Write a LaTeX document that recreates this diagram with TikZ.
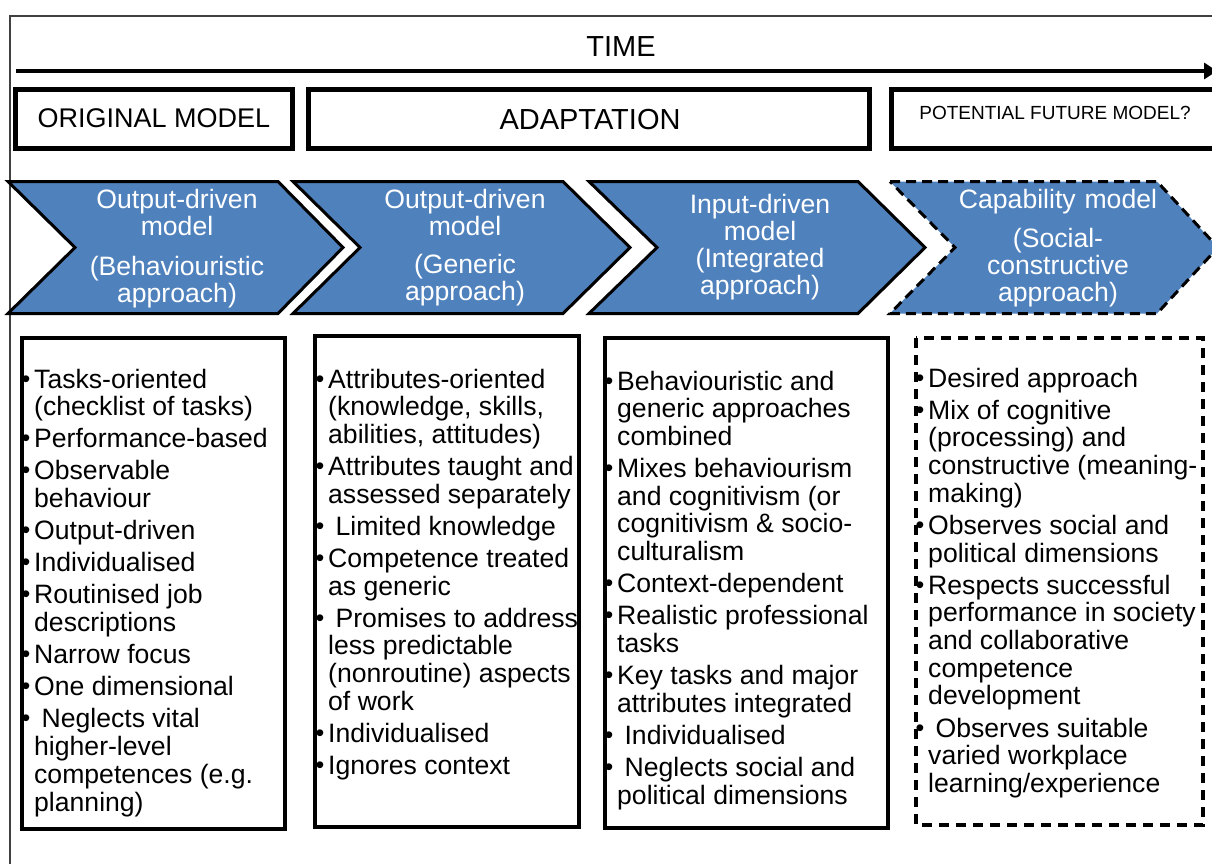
\documentclass[tikz,border=0pt]{standalone}
\usepackage{fontspec}
\setmainfont{Liberation Sans}
\usetikzlibrary{arrows.meta}
\definecolor{chevblue}{HTML}{4F81BD}
\definecolor{framegray}{HTML}{404040}
\newcommand\mybul{{\fontsize{25}{25}\selectfont\textbullet}}
\newcommand\itm[1]{\par\hangindent=12pt\hangafter=1\noindent\makebox[12pt][l]{\kern-0.5pt\raisebox{1pt}{\mybul}}#1}
\newcommand\listblock[1]{\vtop{\hsize=300pt\parindent=0pt\parskip=4.4pt\relax
  \rightskip=0pt plus 1fil\relax #1\par}}
\tikzset{
  hdrbox/.style={draw=black, line width=5pt},
  hdrtext/.style={inner sep=0pt, anchor=base},
  chev/.style={fill=chevblue, draw=black, line width=3pt, line join=miter},
  chevdash/.style={chev, dash pattern=on 10pt off 6pt},
  chevtext/.style={text=white, font=\fontsize{26.6}{27}\selectfont, text width=260pt, align=center, inner sep=0pt, anchor=base},
  listbox/.style={draw=black, line width=4pt},
  listdash/.style={listbox, dash pattern=on 10pt off 7pt},
  listtext/.style={font=\fontsize{26.6}{27.7}\selectfont, inner sep=0pt, anchor=base west},
}
\begin{document}
\begin{tikzpicture}[x=1pt,y=-1pt]
\useasboundingbox (0,0) rectangle (1212,864);
\clip (0,0) rectangle (1212,864);
\fill[white] (0,0) rectangle (1212,864);
% outer frame
\draw[framegray, line width=1.5pt] (10,864) -- (10,16) -- (1212,16);
% time axis
\node[hdrtext, font=\fontsize{29}{29}\selectfont] (time) at (621,57) {TIME};
\coordinate (ts) at (16,71);
\coordinate (te) at (1217,71);
\draw[line width=3.5pt, -{Triangle[length=13pt,width=16pt]}] (ts) -- (te);
% header boxes
\draw[hdrbox] (15.5,89.5) rectangle (292.5,148.5);
\draw[hdrbox] (308.5,89.5) rectangle (869.5,148.5);
\draw[hdrbox] (891.5,89.5) rectangle (1240,148.5);
\node[hdrtext, font=\fontsize{27}{27}\selectfont] (h1) at (154,128) {ORIGINAL MODEL};
\node[hdrtext, font=\fontsize{29}{29}\selectfont] (h2) at (590,130) {ADAPTATION};
\node[hdrtext, font=\fontsize{19}{19}\selectfont] (h3) at (1055,120) {POTENTIAL FUTURE MODEL?};
% chevrons
\draw[chev] (8,181.5) -- (278,181.5) -- (343,247.5) -- (278,313.5) -- (8,313.5) -- (75,247.5) -- cycle;
\draw[chev] (293,181.5) -- (563,181.5) -- (630,247.5) -- (563,313.5) -- (293,313.5) -- (360,247.5) -- cycle;
\draw[chev] (589,181.5) -- (858,181.5) -- (925,247.5) -- (858,313.5) -- (589,313.5) -- (657,247.5) -- cycle;
\draw[chevdash] (890,181.5) -- (1157,181.5) -- (1218,247.5) -- (1157,313.5) -- (890,313.5) -- (955,247.5) -- cycle;
\node[chevtext] (c1t) at (177,208) {Output-driven\\model\\[13pt](Behaviouristic\\approach)};
\node[chevtext] (c2t) at (465,208) {Output-driven\\model\\[11pt](Generic\\approach)};
\node[chevtext] (c3t) at (760,213) {Input-driven\\model\\(Integrated\\approach)};
\node[chevtext] (c4t) at (1058,208) {Capability model\\[12pt](Social-\\constructive\\approach)};
% list boxes
\draw[listbox] (22,338) rectangle (285,829);
\draw[listbox] (315,336) rectangle (579,827);
\draw[listbox] (605,338) rectangle (888,828);
\draw[listdash] (916,338) rectangle (1203,825);
\node[listtext] (l1) at (22,388) {\listblock{%
\itm{Tasks-oriented\newline (checklist of tasks)}
\itm{Performance-based}
\itm{Observable\newline behaviour}
\itm{Output-driven}
\itm{Individualised}
\itm{Routinised job\newline descriptions}
\itm{Narrow focus}
\itm{One dimensional}
\itm{\ Neglects vital\newline higher-level\newline competences (e.g.\newline planning)}}};
\node[listtext] (l2) at (316,388) {\listblock{%
\itm{Attributes-oriented\newline (knowledge, skills,\newline abilities, attitudes)}
\itm{Attributes taught and\newline assessed separately}
\itm{\ Limited knowledge}
\itm{Competence treated\newline as generic}
\itm{\ Promises to address\newline less predictable\newline (nonroutine) aspects\newline of work}
\itm{Individualised}
\itm{Ignores context}}};
\node[listtext] (l3) at (605,390) {\listblock{%
\itm{Behaviouristic and\newline generic approaches\newline combined}
\itm{Mixes behaviourism\newline and cognitivism (or\newline cognitivism \& socio-\newline culturalism}
\itm{Context-dependent}
\itm{Realistic professional\newline tasks}
\itm{Key tasks and major\newline attributes integrated}
\itm{\ Individualised}
\itm{\ Neglects social and\newline political dimensions}}};
\node[listtext] (l4) at (916,387) {\listblock{%
\itm{Desired approach}
\itm{Mix of cognitive\newline (processing) and\newline constructive (meaning-\newline making)}
\itm{Observes social and\newline political dimensions}
\itm{Respects successful\newline performance in society\newline and collaborative\newline competence\newline development}
\itm{\ Observes suitable\newline varied workplace\newline learning/experience}}};
\end{tikzpicture}
\end{document}
